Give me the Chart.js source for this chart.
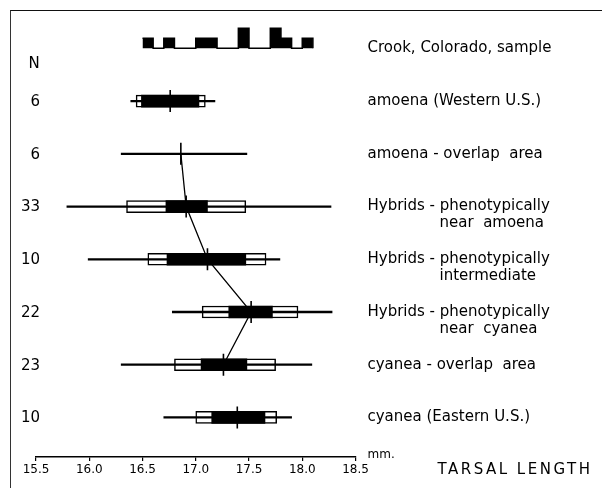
<!DOCTYPE html>
<html><head><meta charset="utf-8">
<script src="https://cdn.jsdelivr.net/npm/chart.js@4.4.1/dist/chart.umd.min.js"></script>
<style>
html,body{margin:0;padding:0;background:#fff;}
#wrap{position:relative;width:602px;height:488px;overflow:hidden;background:#fff;}
#c{position:absolute;left:0;top:0;}
#frame{position:absolute;left:10px;top:10px;right:-4px;bottom:-4px;border-top:1.5px solid #111;border-left:1.2px solid #333;pointer-events:none;}
</style></head><body>
<div id="wrap"><canvas id="c" width="602" height="488"></canvas><div id="frame"></div></div>
<script>
// ---- data (mm) ----
const rowNames = [
  'amoena (Western U.S.)',
  'amoena - overlap  area',
  ['Hybrids - phenotypically', 'near  amoena'],
  ['Hybrids - phenotypically', 'intermediate'],
  ['Hybrids - phenotypically', 'near  cyanea'],
  'cyanea - overlap  area',
  'cyanea (Eastern U.S.)'
];
const sampleSizes = [6, 6, 33, 10, 22, 23, 10];
const rangeMin = [16.39, 16.30, 15.79, 15.99, 16.78, 16.30, 16.70];
const rangeMax = [17.18, 17.48, 18.27, 17.79, 18.28, 18.09, 17.90];
const means    = [16.76, 16.86, 16.91, 17.11, 17.52, 17.26, 17.39];
const sdLow    = [16.44, null, 16.35, 16.55, 17.06, 16.80, 17.00];
const sdHigh   = [17.09, null, 17.47, 17.66, 17.96, 17.75, 17.76];
const seLow    = [16.49, null, 16.72, 16.73, 17.31, 17.05, 17.15];
const seHigh   = [17.03, null, 17.11, 17.47, 17.72, 17.48, 17.65];
const joinedRows = [1, 2, 3, 4, 5];
const histEdges  = [16.5, 16.6, 16.7, 16.8, 16.9, 17.0, 17.1, 17.2, 17.3, 17.4, 17.5, 17.6, 17.7, 17.8, 17.9, 18.0, 18.1];
const histCounts = [1, 0, 1, 0, 0, 1, 1, 0, 0, 2, 0, 0, 2, 1, 0, 1, 0];
const xTickValues = [15.5, 16.0, 16.5, 17.0, 17.5, 18.0, 18.5];
const histTitle = 'Crook, Colorado, sample';
const nHeader = 'N';
const unitLabel = 'mm.';
const axisTitle = 'TARSAL LENGTH';

// ---- layout of the row axis ----
const ROW_TOP = -1.5, ROW_BOTTOM = 6.75;
const HIST_ROW = -1, N_ROW = -0.7;
const ROWS_PER_COUNT = 0.19;
const FONT = '"DejaVu Sans", sans-serif';

const rows = rowNames.map((_, i) => i);
const boxRows = rows.filter(i => sdLow[i] != null);

const textPlugin = {
  id: 'texts',
  afterDatasetsDraw(chart) {
    const {ctx, scales: {x, y}} = chart;
    ctx.save();
    ctx.fillStyle = '#000';
    ctx.textBaseline = 'middle';
    ctx.font = '15px ' + FONT;
    ctx.textAlign = 'center';
    ctx.fillText(nHeader, x.left - 2, y.getPixelForValue(N_ROW));
    ctx.textAlign = 'right';
    sampleSizes.forEach((n, i) => ctx.fillText(String(n), x.left + 4, y.getPixelForValue(i) + 1));
    ctx.textAlign = 'left';
    const lx = x.right + 12;
    ctx.fillText(histTitle, lx, y.getPixelForValue(HIST_ROW));
    rowNames.forEach((name, i) => {
      [].concat(name).forEach((t, k) => {
        ctx.fillText(t, lx + (k ? 72 : 0), y.getPixelForValue(i) + k * 17);
      });
    });
    ctx.font = '12px ' + FONT;
    ctx.fillText(unitLabel, lx, x.top - 2);
    ctx.font = '15px ' + FONT;
    try { ctx.letterSpacing = '2.5px'; } catch (e) {}
    ctx.fillText(axisTitle, x.right + 82, x.top + 13);
    ctx.restore();
  }
};

new Chart(document.getElementById('c'), {
  type: 'bar',
  data: {
    datasets: [
      { type: 'line', label: 'hist', yAxisID: 'yHist',
        data: histEdges.map((e, i) => ({x: e, y: histCounts[i]})),
        stepped: true, fill: 'origin', backgroundColor: '#000', borderColor: '#000',
        borderWidth: 1.5, pointRadius: 0, order: 1 },
      { type: 'line', label: 'mean',
        data: rows.map(i => ({x: means[i], y: i})),
        showLine: false, pointStyle: 'line', rotation: 90, pointRadius: 11,
        pointBorderWidth: 1.6, pointBorderColor: '#000', order: 2 },
      { type: 'bar', indexAxis: 'y', label: 'se',
        data: boxRows.map(i => ({x: [seLow[i], seHigh[i]], y: i})),
        backgroundColor: '#000', borderWidth: 0, barThickness: 12, maxBarThickness: 12,
        grouped: false, order: 3 },
      { type: 'bar', indexAxis: 'y', label: 'range',
        data: rows.map(i => ({x: [rangeMin[i], rangeMax[i]], y: i})),
        backgroundColor: '#000', borderWidth: 0, barThickness: 1.6, maxBarThickness: 1.6,
        grouped: false, order: 4 },
      { type: 'bar', indexAxis: 'y', label: 'sd',
        data: boxRows.map(i => ({x: [sdLow[i], sdHigh[i]], y: i})),
        backgroundColor: '#fff', borderColor: '#000', borderWidth: 1.5, borderSkipped: false,
        barThickness: 12, maxBarThickness: 12, grouped: false, order: 5 },
      { type: 'line', label: 'trend',
        data: joinedRows.map(i => ({x: means[i], y: i})),
        borderColor: '#000', borderWidth: 1.3, pointRadius: 0, fill: false, order: 6 }
    ]
  },
  options: {
    responsive: false, animation: false,
    layout: { padding: { left: 36, right: 246.5, top: 22, bottom: 0 } },
    plugins: { legend: { display: false }, tooltip: { enabled: false } },
    scales: {
      x: {
        type: 'linear', position: 'bottom', min: 15.5, max: 18.5, offset: false,
        afterBuildTicks: s => { s.ticks = xTickValues.map(v => ({value: v})); },
        afterFit: s => { s.height = 31; },
        border: { display: true, color: '#000', width: 1.5 },
        grid: { display: true, offset: false, drawOnChartArea: false, drawTicks: true, tickLength: 4, color: '#000', lineWidth: 1.2 },
        ticks: { color: '#000', padding: 2, maxRotation: 0, autoSkip: false,
                 font: { family: FONT, size: 12 }, callback: v => Number(v).toFixed(1) }
      },
      y: { type: 'linear', reverse: true, min: ROW_TOP, max: ROW_BOTTOM, offset: false,
           grid: { offset: false }, display: false },
      yHist: { type: 'linear', display: false, offset: false,
               min: -(ROW_BOTTOM - HIST_ROW) / ROWS_PER_COUNT,
               max: (HIST_ROW - ROW_TOP) / ROWS_PER_COUNT }
    }
  },
  plugins: [textPlugin]
});
</script>
</body></html>
